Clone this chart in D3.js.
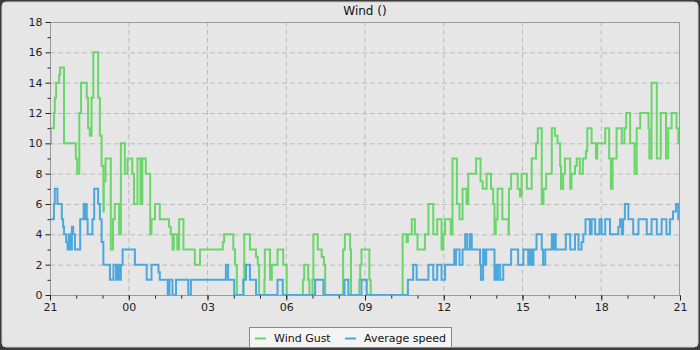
<!DOCTYPE html>
<html><head><meta charset="utf-8">
<script src="https://cdn.jsdelivr.net/npm/d3@7"></script>
<style>
html,body{margin:0;padding:0;background:#3b3b3b;}
svg{display:block;font-family:"DejaVu Sans",sans-serif;}
</style></head>
<body>
<svg id="chart" width="700" height="350"></svg>
<script>
// Data: minutes after 21:00 and wind values (step series)
const gustMin = [0,2,9,11,14,21,23,32,59,62,67,71,84,87,91,95,99,110,114,118,122,123,127,139,144,148,158,162,171,177,188,192,200,207,211,219,229,232,240,251,272,276,280,283,291,295,305,331,343,395,398,419,423,427,442,444,457,471,475,478,490,491,503,507,520,533,541,578,581,590,593,600,602,612,621,626,629,670,674,686,688,707,709,712,730,733,806,815,818,827,834,840,857,865,876,885,895,899,903,916,920,930,936,943,952,956,974,984,989,998,1008,1013,1016,1019,1023,1034,1048,1049,1054,1069,1074,1078,1090,1101,1111,1115,1124,1128,1134,1147,1154,1160,1166,1168,1173,1177,1189,1192,1200,1204,1211,1218,1225,1228,1238,1248,1251,1269,1278,1282,1286,1295,1307,1313,1317,1326,1336,1341,1349,1368,1370,1375,1387,1396,1408,1413,1421,1432,1436];
const gustVal = [10,11,12,13,14,14.5,15,10,9,8,12,14,13,11,10.5,13,16,13,10.5,8.5,5.5,7.5,9,3,5,6,4,10,8,9,8,6,9,6,9,8,4,5,6,5,4.5,4,3,4,3,5,3,2,3,3.5,4,3,2,0,1,4,3,2.5,2,0,1,3,1,2,3,2,0,1,2,1,0,1,4,3,2.5,2,0,3,4,3,0,1,2,3,1,0,4,3.5,4,5,4,3,4,6,4,5,3,4,5,4,9,6,5,7,6,8,9,7.5,7,8,7,6,4,5,7,5,4,7,8,7,6.5,8,7,9,10,11,6,7,8,11,10.5,10,8.5,7,8,9,7,8,8.5,9,8,9,9.5,11,10,9,10,11,9,7,9,11,10,11,12,10,8,11,12,11,9,14,9,12,9,11,12,11,10];
const avgMin = [0,9,11,17,27,30,32,37,40,43,46,50,53,57,69,77,79,81,84,86,97,101,110,114,118,122,137,145,151,155,159,162,166,194,221,232,248,251,269,273,280,288,316,322,402,407,421,442,448,457,471,520,532,606,625,673,682,712,724,818,830,838,865,876,885,895,903,924,926,928,936,943,949,954,960,964,983,985,990,994,997,1016,1018,1022,1024,1029,1036,1054,1070,1082,1093,1097,1101,1105,1112,1124,1127,1132,1147,1150,1152,1156,1179,1189,1200,1208,1215,1219,1224,1234,1238,1246,1256,1261,1269,1280,1299,1303,1307,1310,1314,1322,1333,1345,1364,1375,1387,1398,1409,1417,1424,1431,1436];
const avgVal = [5,6,7,6,5,4.5,4,3.5,3,4,3,4.5,4,3,5,6,5,6,5,4,5,7,6,5,3.5,2,1,2,1,2,1,2,3,2,1,2,1.5,1,0,1,0,1,0,1,2,1,0,1,2,1,0,1,0,1,0,1,0,1,0,1,2,1,2,1,2,1,2,3,2,3,2,3,4,3,4,3,2,1,3,2,3,1,2,1,2,1,2,3,2,3,2,3,2,3,4,3,2,3,4,3,4,3,4,3,4,3,3.5,4,5,4,5,4,5,4,5,4,4.5,5,4,5,6,5,4,5,4,5,4,5,4,5,5.5,6,5];
const seriesNames = ["Wind Gust", "Average speed"];
const seriesColors = ["#6ad66a", "#4ba7dc"];
const yTicks = [0,2,4,6,8,10,12,14,16,18];
const title = "Wind ()";

const W = 700, H = 350;
const M = {left: 50, right: 680, top: 22, bottom: 295};
const svg = d3.select("#chart");

// frame
svg.append("rect").attr("x", 2).attr("y", 2).attr("width", W - 4).attr("height", H - 5)
  .attr("rx", 4).attr("fill", "#e6e6e6").attr("stroke", "#d0d0d0").attr("stroke-width", 1);

const t0 = new Date(2024, 0, 1, 21, 0, 0);
const toDate = m => new Date(t0.getTime() + m * 60000);
const x = d3.scaleTime().domain([t0, toDate(1440)]).range([M.left, M.right]);
const y = d3.scaleLinear().domain([0, 18]).range([M.bottom, M.top]);

// grid
const g = svg.append("g");
const majorX = x.ticks(d3.timeHour.every(3));
g.selectAll(".gx").data(majorX.slice(1, -1)).join("line")
  .attr("x1", d => x(d)).attr("x2", d => x(d)).attr("y1", M.top).attr("y2", M.bottom)
  .attr("stroke", "#bdbdbd").attr("stroke-dasharray", "5,3").attr("stroke-width", 1);
g.selectAll(".gy").data(yTicks.slice(1, -1)).join("line")
  .attr("x1", M.left).attr("x2", M.right).attr("y1", d => y(d) + 0.5).attr("y2", d => y(d) + 0.5)
  .attr("stroke", "#bdbdbd").attr("stroke-dasharray", "5,3").attr("stroke-width", 1);

// lines
function pts(mins, vals) {
  const p = mins.map((m, i) => [toDate(m), vals[i]]);
  p.push([toDate(1440), vals[vals.length - 1]]);
  return p;
}
const line = d3.line().x(d => x(d[0])).y(d => y(d[1])).curve(d3.curveStepAfter);
const clip = svg.append("clipPath").attr("id", "clip").append("rect")
  .attr("x", M.left).attr("y", M.top - 2).attr("width", M.right - M.left).attr("height", M.bottom - M.top + 2);
const lines = svg.append("g").attr("clip-path", "url(#clip)");
lines.append("path").datum(pts(gustMin, gustVal)).attr("d", line)
  .attr("fill", "none").attr("stroke", seriesColors[0]).attr("stroke-width", 2);
lines.append("path").datum(pts(avgMin, avgVal)).attr("d", line)
  .attr("fill", "none").attr("stroke", seriesColors[1]).attr("stroke-width", 2);

// plot frame
svg.append("rect").attr("x", M.left + 0.5).attr("y", M.top + 0.5)
  .attr("width", M.right - M.left - 1).attr("height", M.bottom - M.top)
  .attr("fill", "none").attr("stroke", "#9a9a9a").attr("stroke-width", 1);

// axes
const xAxis = d3.axisBottom(x).ticks(d3.timeHour.every(3)).tickFormat(d3.timeFormat("%H")).tickSize(5).tickPadding(3);
const xa = svg.append("g").attr("transform", `translate(0,${M.bottom + 0.5})`).call(xAxis);
const xMinor = svg.append("g").attr("transform", `translate(0,${M.bottom + 0.5})`)
  .call(d3.axisBottom(x).ticks(d3.timeHour.every(1)).tickFormat("").tickSize(3));
const yAxis = d3.axisLeft(y).tickValues(yTicks).tickSize(5).tickPadding(3);
const ya = svg.append("g").attr("transform", `translate(${M.left + 0.5},0)`).call(yAxis);
const yMinor = svg.append("g").attr("transform", `translate(${M.left + 0.5},0)`)
  .call(d3.axisLeft(y).tickValues(d3.range(1, 18, 2)).tickFormat("").tickSize(3));
[xa, xMinor, ya, yMinor].forEach(a => {
  a.select(".domain").remove();
  a.selectAll(".tick line").attr("stroke", "#222");
  a.selectAll("text").attr("fill", "#222").style("font-size", "11px").style("font-family", "DejaVu Sans, sans-serif");
});

// title
svg.append("text").attr("x", (M.left + M.right) / 2).attr("y", 15).attr("text-anchor", "middle")
  .style("font-size", "12px").attr("fill", "#111").text(title);

// legend
const lg = svg.append("g");
lg.append("rect").attr("x", 249.5).attr("y", 327.5).attr("width", 202).attr("height", 20)
  .attr("fill", "#f4f4f4").attr("stroke", "#888");
const items = [{x: 255, tx: 274}, {x: 345, tx: 364}];
items.forEach((it, i) => {
  lg.append("line").attr("x1", it.x).attr("x2", it.x + 11).attr("y1", 338.5).attr("y2", 338.5)
    .attr("stroke", seriesColors[i]).attr("stroke-width", 2);
  lg.append("text").attr("x", it.tx).attr("y", 342).style("font-size", "11px").attr("fill", "#111").text(seriesNames[i]);
});
</script>
</body></html>
